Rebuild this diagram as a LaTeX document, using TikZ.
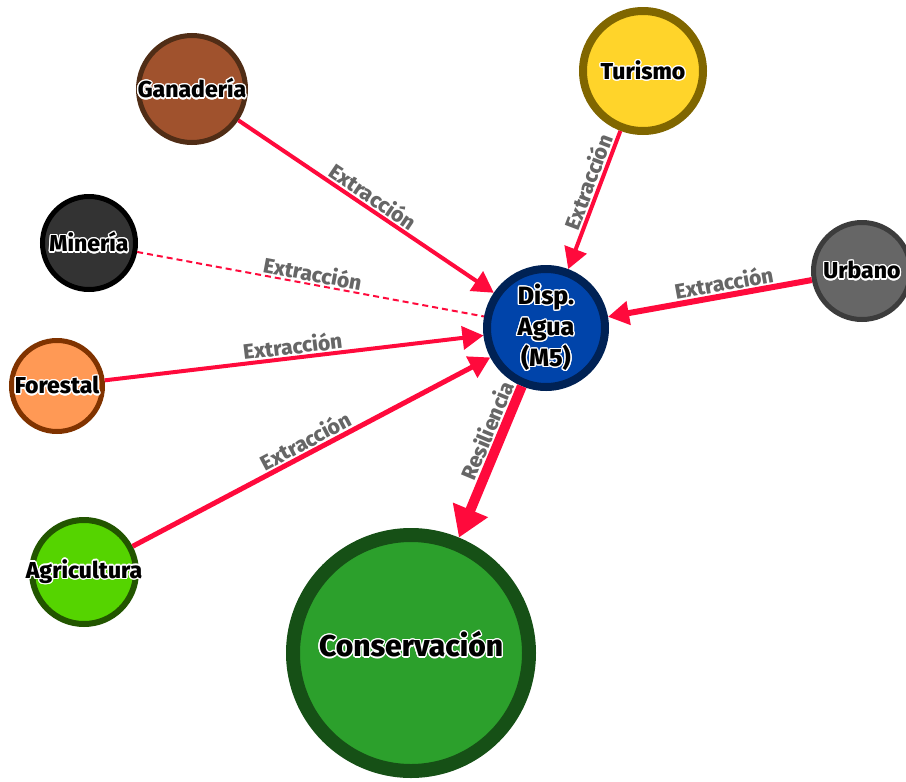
\documentclass[tikz,border=0pt]{standalone}
\usepackage{fontspec}
\setmainfont{Fira Sans}[BoldFont={Fira Sans ExtraBold}]
\usepackage{contour}
\contourlength{1.3pt}
\usetikzlibrary{arrows.meta}

\definecolor{rojo}{HTML}{FF0A3C}
\definecolor{grisetq}{HTML}{666666}
\definecolor{rGan}{HTML}{A0522D} \definecolor{bGan}{HTML}{502D16}
\definecolor{rTur}{HTML}{FFD42A} \definecolor{bTur}{HTML}{806600}
\definecolor{rMin}{HTML}{333333} \definecolor{bMin}{HTML}{000000}
\definecolor{rUrb}{HTML}{666666} \definecolor{bUrb}{HTML}{3C3C3C}
\definecolor{rFor}{HTML}{FF9955} \definecolor{bFor}{HTML}{803300}
\definecolor{rAgr}{HTML}{55D400} \definecolor{bAgr}{HTML}{225500}
\definecolor{rAgu}{HTML}{0044AA} \definecolor{bAgu}{HTML}{002255}
\definecolor{rCon}{HTML}{2CA02C} \definecolor{bCon}{HTML}{165016}

\begin{document}
\begin{tikzpicture}[x=1pt, y=-1pt,
    >={Triangle[length=21pt, width=23pt]},
    sector/.style={circle, inner sep=0pt},
    nombre/.style={font=\bfseries\fontsize{23}{27}\selectfont, align=center},
    flecha/.style={draw=rojo, ->, line width=#1},
    etiqueta/.style={font=\bfseries\fontsize{21}{22}\selectfont,
        text=grisetq, sloped, above, inner sep=1.5pt}]

    \useasboundingbox (0,0) rectangle (906,782);

    % Sectores
    \foreach \id/\x/\y/\tam/\ancho/\relleno/\borde/\txt in {
        gan/192/89/107/5/rGan/bGan/Ganadería,
        tur/643/71/120/8/rTur/bTur/Turismo,
        min/89/243/93/5/rMin/bMin/Minería,
        urb/862/271/97/5/rUrb/bUrb/Urbano,
        fore/57/386/91/5/rFor/bFor/Forestal,
        agr/84/572/104/6/rAgr/bAgr/Agricultura}{
        \node[sector, minimum size=\tam pt, line width=\ancho pt,
            fill=\relleno, draw=\borde,
            label={[nombre]center:\contour{white}{\txt}}] (\id) at (\x,\y) {};
    }

    % Disponibilidad de agua
    \node[sector, minimum size=118pt, line width=8pt, fill=rAgu, draw=bAgu,
        label={[nombre, font=\bfseries\fontsize{25}{31}\selectfont]center:\contour{white}{Disp.}\\\contour{white}{Agua}\\\contour{white}{(M5)}}]
        (agua) at (546,328) {};

    % Conservacion
    \node[sector, minimum size=236pt, line width=14pt, fill=rCon, draw=bCon,
        label={[nombre, font=\bfseries\fontsize{30}{32}\selectfont, yshift=8pt]center:\contour{white}{Conservación}}]
        (cons) at (411,653) {};

    % Extraccion
    \foreach \desde/\ancho/\pos in {gan/4/0.5, tur/4/0.4, urb/6/0.42,
                                    fore/4/0.5, agr/5/0.5}{
        \draw[flecha=\ancho pt] (\desde) --
            node[etiqueta, pos=\pos] {Extracción} (agua);
    }
    \draw[draw=rojo, line width=2pt, dash pattern=on 6pt off 4pt]
        (min) -- node[etiqueta] {Extracción} (agua);

    % Resiliencia
    \draw[flecha=10pt, -{Triangle[length=30pt, width=36pt]}]
        (agua) -- node[etiqueta, pos=0.33] {Resiliencia} (cons);
\end{tikzpicture}
\end{document}
